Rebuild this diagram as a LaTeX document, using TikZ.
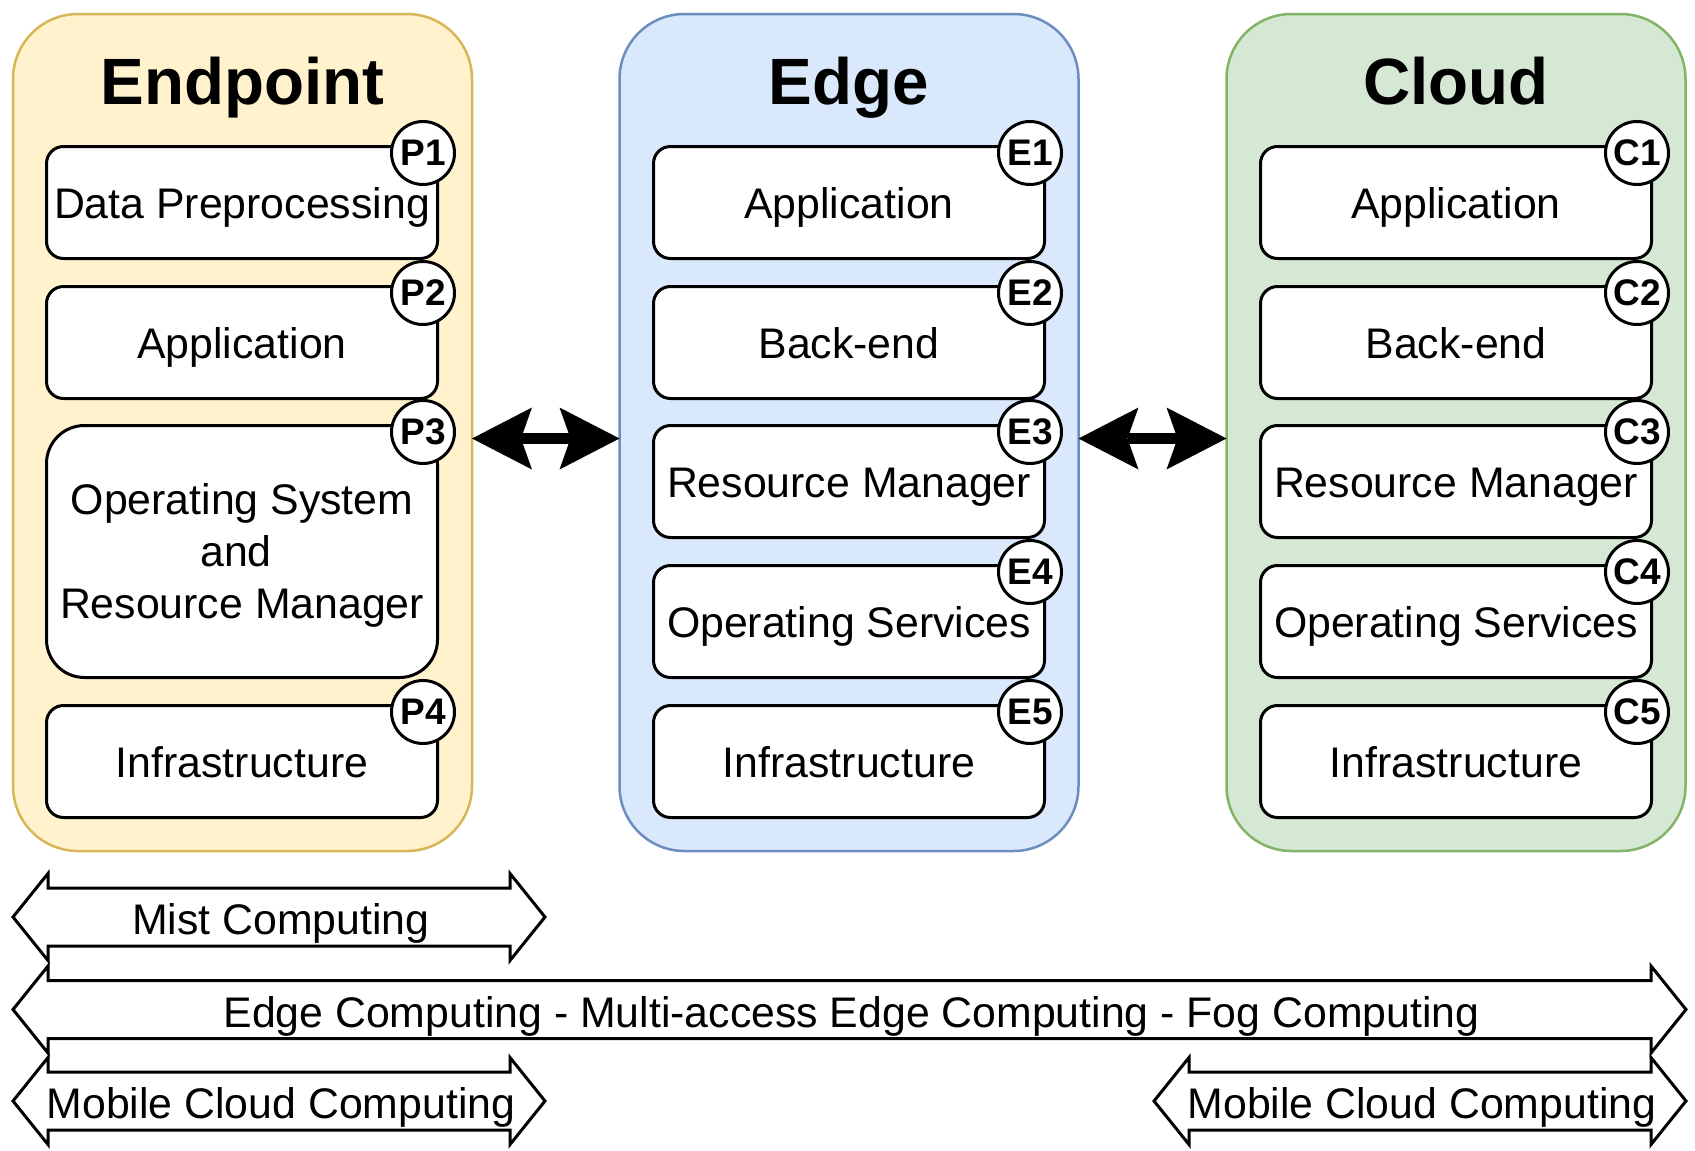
\documentclass[tikz,border=0pt]{standalone}
\usepackage{fontspec}
\setmainfont{Liberation Sans}
\usetikzlibrary{arrows.meta}
\definecolor{epfill}{HTML}{FFF2CC}\definecolor{epdraw}{HTML}{D6B656}
\definecolor{edfill}{HTML}{DAE8FC}\definecolor{eddraw}{HTML}{6C8EBF}
\definecolor{clfill}{HTML}{D5E8D4}\definecolor{cldraw}{HTML}{82B366}
\tikzset{
  colbox/.style={rectangle, rounded corners=65pt, minimum width=459pt, minimum height=837pt, line width=2.5pt, inner sep=0pt, outer sep=0pt},
  layerbox/.style={rectangle, draw=black, fill=white, line width=3pt, rounded corners=17pt, minimum width=391pt, minimum height=112pt, inner sep=0pt},
  tallbox/.style={rounded corners=38pt, minimum height=252pt},
  badgec/.style={circle, draw=black, fill=white, line width=3pt, minimum size=63pt, inner sep=0pt, font=\fontsize{37pt}{40pt}\selectfont\bfseries},
  coltitle/.style={font=\fontsize{65.5pt}{70pt}\selectfont\bfseries, anchor=base, inner sep=0pt},
  txt/.style={font=\fontsize{42.8pt}{52pt}\selectfont, anchor=base, inner sep=0pt},
  spanarr/.style={draw=black, fill=white, line width=3pt, line join=miter},
  bilink/.style={line width=11pt, {Stealth[length=60pt,width=62pt,inset=11pt,line width=0pt]}-{Stealth[length=60pt,width=62pt,inset=11pt,line width=0pt]}}
}
\newcommand{\spanarrow}[5]{%
  \draw[spanarr] (#2,#4) -- (#2+35,#4-43.5) -- (#2+35,#4-29) -- (#3-35,#4-29) -- (#3-35,#4-43.5) -- (#3,#4) -- (#3-35,#4+43.5) -- (#3-35,#4+29) -- (#2+35,#4+29) -- (#2+35,#4+43.5) -- cycle;
  \node[txt] (#1) at ({(#2+#3)/2+2},#4+17.5) {#5};
}
\begin{document}
\begin{tikzpicture}[x=1pt,y=-1pt]
\useasboundingbox (0,0) rectangle (1695,1151);
% columns
\node[colbox, draw=epdraw, fill=epfill] (ep) at (242.5,432.5) {};
\node[colbox, draw=eddraw, fill=edfill] (ed) at (849,432.5) {};
\node[colbox, draw=cldraw, fill=clfill] (cl) at (1456,432.5) {};
\node[coltitle] (ept) at (242.5,104) {Endpoint};
\node[coltitle] (edt) at (849,104) {Edge};
\node[coltitle] (clt) at (1456,104) {Cloud};
% endpoint layers
\node[layerbox] (p1) at (242,202.5) {};
\node[layerbox] (p2) at (242,342.5) {};
\node[layerbox, tallbox] (p3) at (242,551.5) {};
\node[layerbox] (p4) at (242,761.5) {};
\node[txt] (p1t) at (242,218) {Data Preprocessing};
\node[txt] (p2t) at (242,358) {Application};
\node[txt] (p3a) at (242,514) {Operating System};
\node[txt] (p3b) at (236,566) {and};
\node[txt] (p3c) at (242,618) {Resource Manager};
\node[txt] (p4t) at (242,777) {Infrastructure};
% edge layers
\node[layerbox] (e1) at (849,202.5) {};
\node[layerbox] (e2) at (849,342.5) {};
\node[layerbox] (e3) at (849,481.5) {};
\node[layerbox] (e4) at (849,621.5) {};
\node[layerbox] (e5) at (849,761.5) {};
\node[txt] (e1t) at (849,218) {Application};
\node[txt] (e2t) at (849,358) {Back-end};
\node[txt] (e3t) at (849,497) {Resource Manager};
\node[txt] (e4t) at (849,637) {Operating Services};
\node[txt] (e5t) at (849,777) {Infrastructure};
% cloud layers
\node[layerbox] (c1) at (1456,202.5) {};
\node[layerbox] (c2) at (1456,342.5) {};
\node[layerbox] (c3) at (1456,481.5) {};
\node[layerbox] (c4) at (1456,621.5) {};
\node[layerbox] (c5) at (1456,761.5) {};
\node[txt] (c1t) at (1456,218) {Application};
\node[txt] (c2t) at (1456,358) {Back-end};
\node[txt] (c3t) at (1456,497) {Resource Manager};
\node[txt] (c4t) at (1456,637) {Operating Services};
\node[txt] (c5t) at (1456,777) {Infrastructure};
% badges
\node[badgec] (bp1) at (423,153) {P1};
\node[badgec] (bp2) at (423,293) {P2};
\node[badgec] (bp3) at (423,432) {P3};
\node[badgec] (bp4) at (423,712) {P4};
\node[badgec] (be1) at (1030,153) {E1};
\node[badgec] (be2) at (1030,293) {E2};
\node[badgec] (be3) at (1030,432) {E3};
\node[badgec] (be4) at (1030,572) {E4};
\node[badgec] (be5) at (1030,712) {E5};
\node[badgec] (bc1) at (1637,153) {C1};
\node[badgec] (bc2) at (1637,293) {C2};
\node[badgec] (bc3) at (1637,432) {C3};
\node[badgec] (bc4) at (1637,572) {C4};
\node[badgec] (bc5) at (1637,712) {C5};
% links
\draw[bilink] ([yshift=-6pt]ep.east) -- ([yshift=-6pt]ed.west);
\draw[bilink] ([yshift=-6pt]ed.east) -- ([yshift=-6pt]cl.west);
% spans
\spanarrow{mist}{13}{545}{917}{Mist Computing}
\spanarrow{eco}{13}{1686}{1009.5}{Edge Computing - Multi-access Edge Computing - Fog Computing}
\spanarrow{mccl}{13}{545}{1101}{Mobile Cloud Computing}
\spanarrow{mccr}{1154}{1686}{1101}{Mobile Cloud Computing}
\end{tikzpicture}
\end{document}
